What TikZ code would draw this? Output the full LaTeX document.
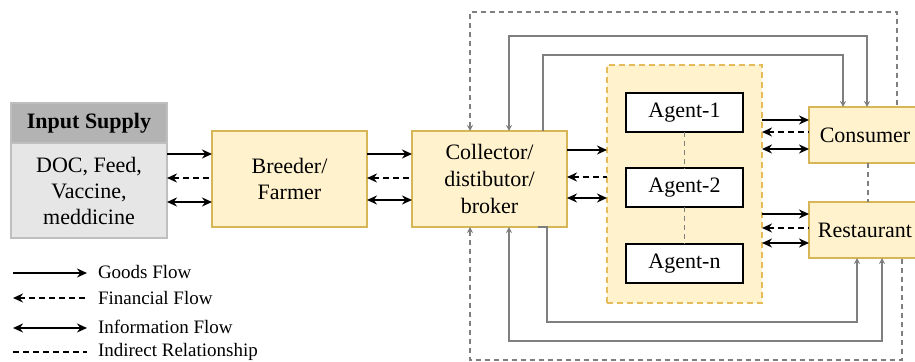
\documentclass[tikz,border=0pt]{standalone}
\usepackage{fontspec}
\setmainfont{Liberation Serif}
\usetikzlibrary{arrows.meta}
\definecolor{boxfill}{HTML}{FFF2CC}
\definecolor{boxline}{HTML}{D6B656}
\definecolor{grpline}{HTML}{E6BC5A}
\definecolor{hdrfill}{HTML}{B3B3B3}
\definecolor{bodyfill}{HTML}{E6E6E6}
\definecolor{inline}{HTML}{BFBFBF}
\definecolor{loopgray}{HTML}{7F7F7F}
\begin{document}
\begin{tikzpicture}[x=0.5pt,y=-0.5pt,
  every node/.style={inner sep=0pt,outer sep=0pt,align=center,font=\fontsize{11}{13}\selectfont},
  ybox/.style={draw=boxline,fill=boxfill,line width=0.8pt,minimum width=77.5pt,minimum height=48pt},
  agentbox/.style={draw=black,fill=white,line width=1pt,minimum width=58.5pt,minimum height=19.5pt},
  endbox/.style={draw=boxline,fill=boxfill,line width=0.8pt,minimum width=56pt,minimum height=28pt},
  goods/.style={line width=0.9pt,-{Stealth[length=5pt,width=4.5pt]}},
  fin/.style={line width=0.9pt,dash pattern=on 3pt off 2pt,{Stealth[length=5pt,width=4.5pt]}-},
  info/.style={line width=0.9pt,{Stealth[length=5pt,width=4.5pt]}-{Stealth[length=5pt,width=4.5pt]}},
  indir/.style={line width=0.9pt,dash pattern=on 3pt off 2pt},
  loopline/.style={draw=loopgray,line width=0.75pt},
  loopdash/.style={draw=loopgray,line width=0.75pt,dash pattern=on 2.5pt off 2pt},
  gtip/.tip={Stealth[length=3pt,width=3pt]},
  legtext/.style={anchor=west,font=\fontsize{9.5}{11}\selectfont}
]
\clip (0,0) rectangle (915,362);
% Input supply
\node[draw=inline,fill=hdrfill,line width=0.8pt,minimum width=78pt,minimum height=20pt,font=\fontsize{11}{13}\selectfont\bfseries] (inhead) at (89,123) {Input Supply};
\node[draw=inline,fill=bodyfill,line width=0.8pt,minimum width=78pt,minimum height=47.5pt] (inbody) at (89,190.5) {DOC, Feed,\\Vaccine,\\meddicine};
% main boxes
\node[ybox] (breeder) at (289.5,179) {Breeder/\\Farmer};
\node[ybox,font=\fontsize{11}{13.5}\selectfont] (collector) at (489.5,179) {Collector/\\distibutor/\\broker};
% agents group
\node[draw=grpline,fill=boxfill,line width=0.8pt,dash pattern=on 3pt off 2pt,minimum width=77.5pt,minimum height=119pt] (agents) at (684.5,184) {};
\node[agentbox] (agent1) at (684.5,112.5) {Agent-1};
\node[agentbox] (agent2) at (684.5,188) {Agent-2};
\node[agentbox] (agentn) at (684.5,264) {Agent-n};
\draw[loopdash] (agent1.south) -- (agent2.north);
\draw[loopdash] (agent2.south) -- (agentn.north);
% consumers
\node[endbox] (consumer) at (865,135) {Consumer};
\node[endbox] (restaurant) at (865,230) {Restaurant};
\draw[loopdash] (consumer.south -| 868,0) -- (restaurant.north -| 868,0);
% flows input -> breeder
\draw[goods] (inbody.east |- 0,154) -- (breeder.west |- 0,154);
\draw[fin] (inbody.east |- 0,178) -- (breeder.west |- 0,178);
\draw[info] (inbody.east |- 0,202) -- (breeder.west |- 0,202);
% breeder -> collector
\draw[goods] (breeder.east |- 0,154) -- (collector.west |- 0,154);
\draw[fin] (breeder.east |- 0,178) -- (collector.west |- 0,178);
\draw[info] (breeder.east |- 0,200) -- (collector.west |- 0,200);
% collector -> agents
\draw[goods] (collector.east |- 0,150) -- (agents.west |- 0,150);
\draw[fin] (collector.east |- 0,177) -- (agents.west |- 0,177);
\draw[info] (collector.east |- 0,198) -- (agents.west |- 0,198);
% agents -> consumer
\draw[goods] (agents.east |- 0,120) -- (consumer.west |- 0,120);
\draw[fin] (agents.east |- 0,132) -- (consumer.west |- 0,132);
\draw[info] (agents.east |- 0,149) -- (consumer.west |- 0,149);
% agents -> restaurant
\draw[goods] (agents.east |- 0,214) -- (restaurant.west |- 0,214);
\draw[fin] (agents.east |- 0,228) -- (restaurant.west |- 0,228);
\draw[info] (agents.east |- 0,243) -- (restaurant.west |- 0,243);
% loops top
\draw[loopdash,gtip-] (collector.north -| 470,0) -- (470,12) -| (consumer.north -| 897,0);
\draw[loopline,gtip-gtip] (collector.north -| 509,0) -- (509,36) -| (consumer.north -| 867,0);
\draw[loopline,-gtip] (collector.north -| 543,0) -- (543,55) -| (consumer.north -| 843,0);
% loops bottom
\draw[loopdash,gtip-] (collector.south -| 470,0) -- (470,360) -| (restaurant.south -| 902,0);
\draw[loopline,gtip-gtip] (collector.south -| 509,0) -- (509,341) -| (restaurant.south -| 882,0);
\draw[loopline,-gtip] (collector.south -| 538,0) -| (547,322) -| (restaurant.south -| 857,0);
% legend
\coordinate (l1a) at (13,273); \coordinate (l1b) at (87,273);
\coordinate (l2a) at (13,298); \coordinate (l2b) at (87,298);
\coordinate (l3a) at (13,328); \coordinate (l3b) at (87,328);
\coordinate (l4a) at (13,352); \coordinate (l4b) at (87,352);
\draw[goods] (l1a) -- (l1b);
\draw[fin] (l2a) -- (l2b);
\draw[info] (l3a) -- (l3b);
\draw[indir] (l4a) -- (l4b);
\node[legtext] (lg1) at (98,272) {Goods Flow};
\node[legtext] (lg2) at (98,298) {Financial Flow};
\node[legtext] (lg3) at (98,327) {Information Flow};
\node[legtext] (lg4) at (98,352) {Indirect Relationship};
\end{tikzpicture}
\end{document}
